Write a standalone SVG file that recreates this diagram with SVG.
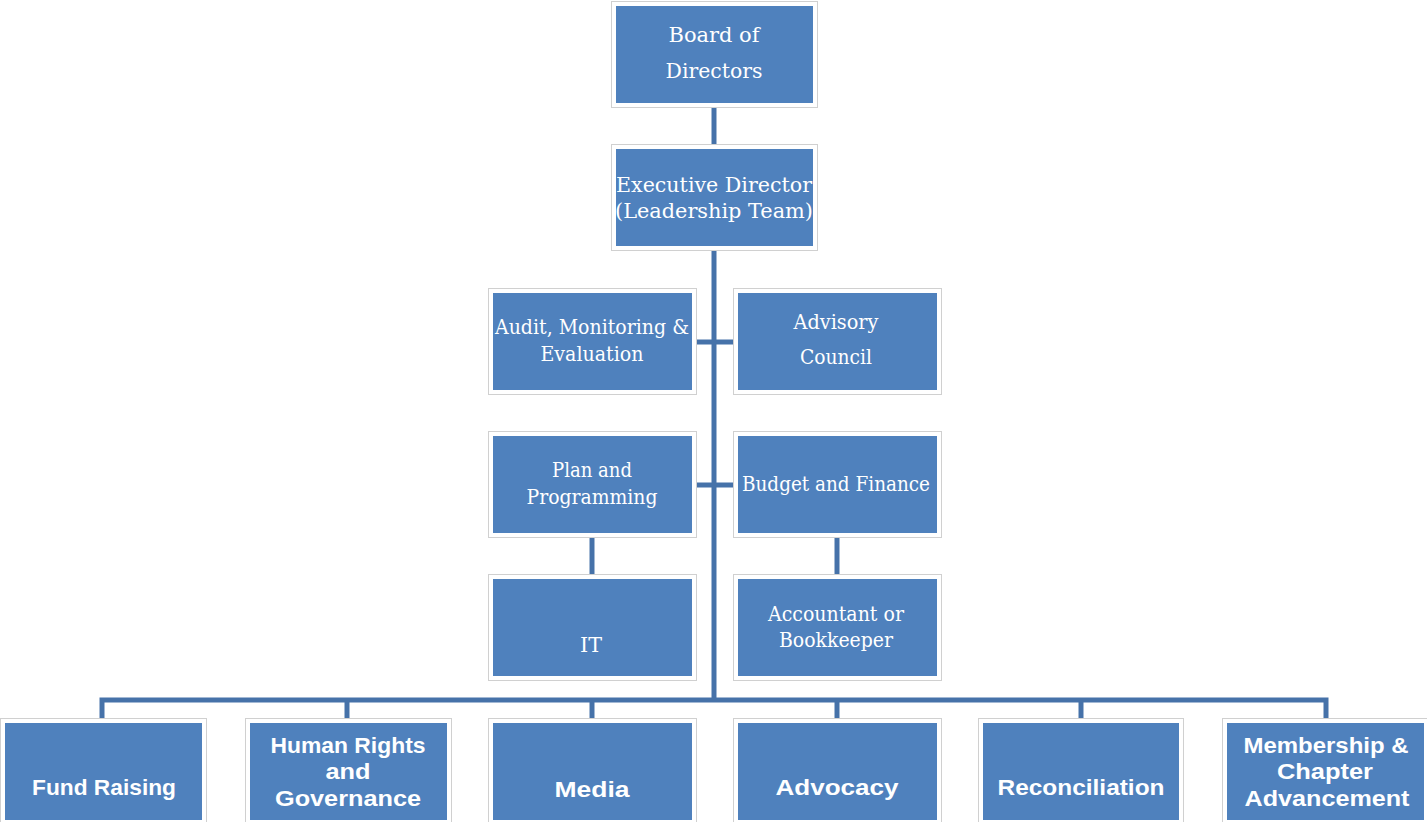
<svg xmlns="http://www.w3.org/2000/svg" width="1427" height="822" viewBox="0 0 1427 822">
<style>
.frame{fill:#ffffff;stroke:#d0d0d0;stroke-width:1}
.box{fill:#4f81bd}
.conn{stroke:#4672a9;stroke-width:5;fill:none;stroke-linecap:butt;stroke-linejoin:miter}
.st{font-family:"DejaVu Serif","Liberation Serif",serif;font-size:20px;fill:#ffffff;text-anchor:middle}
.bt{font-family:"Liberation Sans","DejaVu Sans",sans-serif;font-weight:bold;font-size:22px;fill:#ffffff;text-anchor:middle}
</style>
<rect width="1427" height="822" fill="#ffffff"/>
<g id="connectors">
<path class="conn" d="M714 107 V145"/>
<path class="conn" d="M714 250 V700"/>
<path class="conn" d="M697 342 H734"/>
<path class="conn" d="M697 485 H734"/>
<path class="conn" d="M592 538 V575"/>
<path class="conn" d="M837 538 V575"/>
<path class="conn" d="M102 718 V700 H1326 V718"/>
<path class="conn" d="M347 700 V718"/>
<path class="conn" d="M592 700 V718"/>
<path class="conn" d="M837 700 V718"/>
<path class="conn" d="M1081 700 V718"/>
</g>
<g id="board">
<rect class="frame" x="611.5" y="1.5" width="206" height="106"/>
<rect class="box" x="616" y="6" width="197" height="97"/>
<text class="st" x="714" y="42" textLength="91" lengthAdjust="spacingAndGlyphs">Board of</text>
<text class="st" x="714" y="78" textLength="97" lengthAdjust="spacingAndGlyphs">Directors</text>
</g>
<g id="executive">
<rect class="frame" x="611.5" y="144.5" width="206" height="106"/>
<rect class="box" x="616" y="149" width="197" height="97"/>
<text class="st" x="714" y="192" textLength="196" lengthAdjust="spacingAndGlyphs">Executive Director</text>
<text class="st" x="714" y="218" textLength="198" lengthAdjust="spacingAndGlyphs">(Leadership Team)</text>
</g>
<g id="audit">
<rect class="frame" x="488.5" y="288.5" width="208" height="106"/>
<rect class="box" x="493" y="293" width="199" height="97"/>
<text class="st" x="592" y="334" textLength="194" lengthAdjust="spacingAndGlyphs">Audit, Monitoring &amp;</text>
<text class="st" x="592" y="361" textLength="103" lengthAdjust="spacingAndGlyphs">Evaluation</text>
</g>
<g id="advisory">
<rect class="frame" x="733.5" y="288.5" width="208" height="106"/>
<rect class="box" x="738" y="293" width="199" height="97"/>
<text class="st" x="836" y="329" textLength="85" lengthAdjust="spacingAndGlyphs">Advisory</text>
<text class="st" x="836" y="364" textLength="72" lengthAdjust="spacingAndGlyphs">Council</text>
</g>
<g id="plan">
<rect class="frame" x="488.5" y="431.5" width="208" height="106"/>
<rect class="box" x="493" y="436" width="199" height="97"/>
<text class="st" x="592" y="477" textLength="80" lengthAdjust="spacingAndGlyphs">Plan and</text>
<text class="st" x="592" y="504" textLength="131" lengthAdjust="spacingAndGlyphs">Programming</text>
</g>
<g id="budget">
<rect class="frame" x="733.5" y="431.5" width="208" height="106"/>
<rect class="box" x="738" y="436" width="199" height="97"/>
<text class="st" x="836" y="491" textLength="188" lengthAdjust="spacingAndGlyphs">Budget and Finance</text>
</g>
<g id="it">
<rect class="frame" x="488.5" y="574.5" width="208" height="106"/>
<rect class="box" x="493" y="579" width="199" height="97"/>
<text class="st" x="591" y="652" textLength="22" lengthAdjust="spacingAndGlyphs">IT</text>
</g>
<g id="accountant">
<rect class="frame" x="733.5" y="574.5" width="208" height="106"/>
<rect class="box" x="738" y="579" width="199" height="97"/>
<text class="st" x="836" y="621" textLength="136" lengthAdjust="spacingAndGlyphs">Accountant or</text>
<text class="st" x="836" y="647" textLength="114" lengthAdjust="spacingAndGlyphs">Bookkeeper</text>
</g>
<g id="fundraising">
<rect class="frame" x="0.5" y="718.5" width="206" height="106"/>
<rect class="box" x="5" y="723" width="197" height="97"/>
<text class="bt" x="104" y="795" textLength="144" lengthAdjust="spacingAndGlyphs">Fund Raising</text>
</g>
<g id="humanrights">
<rect class="frame" x="245.5" y="718.5" width="206" height="106"/>
<rect class="box" x="250" y="723" width="197" height="97"/>
<text class="bt" x="348" y="753" textLength="155" lengthAdjust="spacingAndGlyphs">Human Rights</text>
<text class="bt" x="348" y="779" textLength="45" lengthAdjust="spacingAndGlyphs">and</text>
<text class="bt" x="348" y="806" textLength="146" lengthAdjust="spacingAndGlyphs">Governance</text>
</g>
<g id="media">
<rect class="frame" x="488.5" y="718.5" width="208" height="106"/>
<rect class="box" x="493" y="723" width="199" height="97"/>
<text class="bt" x="592" y="797" textLength="75" lengthAdjust="spacingAndGlyphs">Media</text>
</g>
<g id="advocacy">
<rect class="frame" x="733.5" y="718.5" width="208" height="106"/>
<rect class="box" x="738" y="723" width="199" height="97"/>
<text class="bt" x="837" y="795" textLength="123" lengthAdjust="spacingAndGlyphs">Advocacy</text>
</g>
<g id="reconciliation">
<rect class="frame" x="978.5" y="718.5" width="205" height="106"/>
<rect class="box" x="983" y="723" width="196" height="97"/>
<text class="bt" x="1081" y="795" textLength="167" lengthAdjust="spacingAndGlyphs">Reconciliation</text>
</g>
<g id="membership">
<rect class="frame" x="1222.5" y="718.5" width="206" height="106"/>
<rect class="box" x="1227" y="723" width="197" height="97"/>
<text class="bt" x="1326" y="753" textLength="165" lengthAdjust="spacingAndGlyphs">Membership &amp;</text>
<text class="bt" x="1325" y="779" textLength="96" lengthAdjust="spacingAndGlyphs">Chapter</text>
<text class="bt" x="1327" y="806" textLength="165" lengthAdjust="spacingAndGlyphs">Advancement</text>
</g>
</svg>
